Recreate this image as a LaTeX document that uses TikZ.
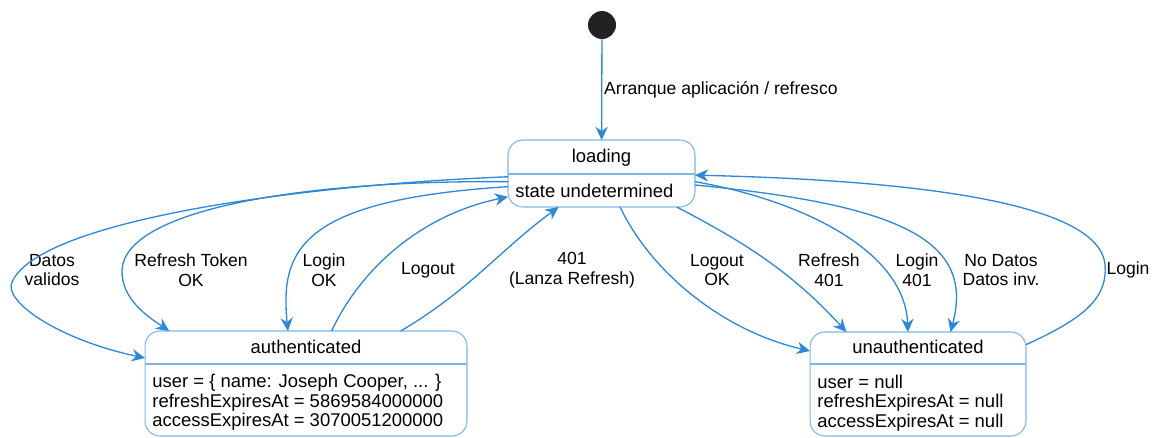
\documentclass[tikz,border=0pt]{standalone}
\usepackage{fontspec}
\setmainfont{Liberation Sans}
\usetikzlibrary{arrows.meta,calc}
\definecolor{flowc}{RGB}{45,137,216}
\definecolor{framec}{RGB}{125,183,234}
\definecolor{dotc}{RGB}{34,34,34}
\tikzset{
  state/.style={draw=framec,line width=0.6pt,rounded corners=0.3cm,inner sep=0pt,outer sep=0pt},
  flow/.style={draw=flowc,line width=0.75pt,-{Stealth[length=7.5pt,width=7pt,inset=2.4pt]}},
  ttl/.style={text height=1.6ex,text depth=0.35ex},
  body/.style={anchor=west,align=left,inner sep=0pt},
  lbl/.style={align=center,font=\fontsize{10}{11.2}\selectfont}
}
\begin{document}
\begin{tikzpicture}[x=0.02cm,y=-0.02cm,font=\fontsize{10.5}{11.2}\selectfont]
\useasboundingbox (0,0) rectangle (1153,437);
% states
\node[circle,fill=dotc,minimum size=0.56cm,inner sep=0pt] (ini) at (602,25) {};
\node[state,minimum width=3.74cm,minimum height=1.34cm] (load) at (601.5,173.5) {};
\node[state,minimum width=6.44cm,minimum height=2.1cm] (auth) at (306,383.5) {};
\node[state,minimum width=4.32cm,minimum height=2.08cm] (unauth) at (918,384) {};
\draw[framec,line width=0.6pt] ($(load.north west)+(0,34)$) -- ($(load.north east)+(0,34)$)
  ($(auth.north west)+(0,33)$) -- ($(auth.north east)+(0,33)$)
  ($(unauth.north west)+(0,32)$) -- ($(unauth.north east)+(0,32)$);
\node[ttl] (loadT) at ($(load.north)+(0,17)$) {loading};
\node[body] (loadB) at ($(load.north west)+(7,51)$) {state undetermined};
\node[ttl] (authT) at ($(auth.north)+(0,17)$) {authenticated};
\node[body] (authB) at ($(auth.north west)+(7,71.5)$)
  {user = \{ name: Joseph Cooper, ... \}\\refreshExpiresAt = 5869584000000\\accessExpiresAt = 3070051200000};
\node[ttl] (unauthT) at ($(unauth.north)+(0,16)$) {unauthenticated};
\node[body] (unauthB) at ($(unauth.north west)+(7,71)$)
  {user = null\\refreshExpiresAt = null\\accessExpiresAt = null};
% labels
\node[lbl] (tDatos) at (52,270) {Datos\\validos};
\node[lbl] (tRefOk) at (191,270) {Refresh Token\\OK};
\node[lbl] (tLogOk) at (324,270) {Login\\OK};
\node[lbl] (tOut) at (428,270) {Logout};
\node[lbl] (t401) at (572,270) {401\\(Lanza Refresh)};
\node[lbl] (tOutOk) at (717,270) {Logout\\OK};
\node[lbl] (tRef401) at (829,270) {Refresh\\401};
\node[lbl] (tLog401) at (917,270) {Login\\401};
\node[lbl] (tNo) at (1001,270) {No Datos\\Datos inv.};
\node[lbl] (tLog) at (1128,270) {Login};
% transitions
\draw[flow] (ini) -- node[right,inner sep=1pt,font=\fontsize{10}{11.2}\selectfont] (tStart) {Arranque aplicación / refresco} (load);
\draw[flow] (load.182) .. controls (300,185) and (40,220) .. (12,282) .. controls (3,302) and (60,340) .. (auth.171);
\draw[flow] (load.185) .. controls (300,180) and (125,210) .. (122,270) .. controls (121,300) and (150,318) .. (auth.159);
\draw[flow] (load.188) .. controls (300,200) and (280,250) .. (auth.109);
\draw[flow] (auth.64) .. controls (360,270) and (420,215) .. (load.194);
\draw[flow] (auth.29) .. controls (470,290) and (500,250) .. (load.218);
\draw[flow] (load.299) .. controls (650,270) and (720,330) .. (unauth.163);
\draw[flow] (load.336) .. controls (740,240) and (790,270) .. (unauth.144);
\draw[flow] (load.355) .. controls (800,200) and (905,250) .. (unauth.101);
\draw[flow] (load.353) .. controls (900,205) and (975,240) .. (unauth.58);
\draw[flow] (unauth.20) .. controls (1080,320) and (1108,300) .. (1105,265) .. controls (1100,200) and (900,180) .. (load.359);
\end{tikzpicture}
\end{document}
